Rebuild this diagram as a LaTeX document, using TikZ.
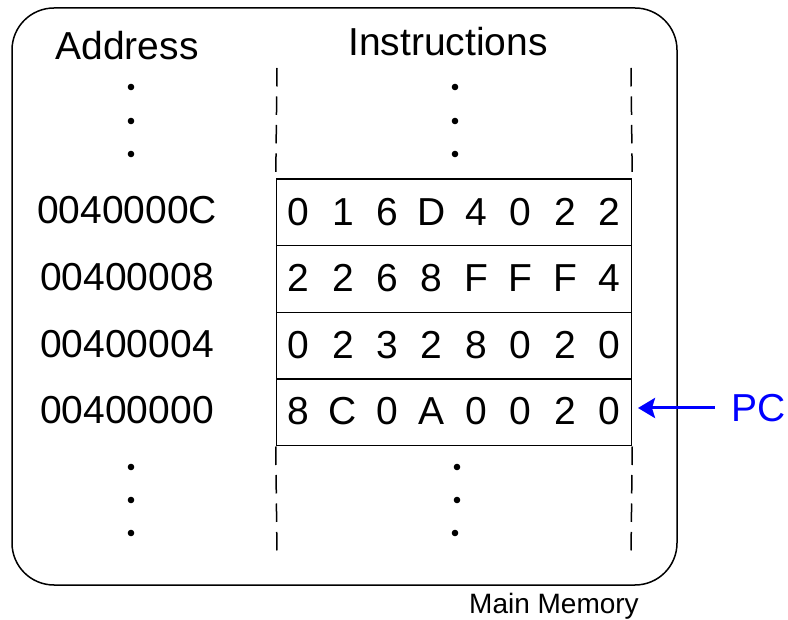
\documentclass[tikz,border=0pt]{standalone}
\usepackage{fontspec}
\setmainfont{Liberation Sans}
\usetikzlibrary{arrows.meta}

% eight hex digits of one word, on an even pitch
\newcommand{\hexcells}[8]{%
  \makebox[44.4pt]{#1}\makebox[44.4pt]{#2}\makebox[44.4pt]{#3}\makebox[44.4pt]{#4}%
  \makebox[44.4pt]{#5}\makebox[44.4pt]{#6}\makebox[44.4pt]{#7}\makebox[44.4pt]{#8}}

\begin{document}
\begin{tikzpicture}[x=1pt, y=-1pt,
  bigtext/.style={font=\fontsize{39}{47}\selectfont, inner sep=0pt},
  memrow/.style={draw, line width=1.3pt, minimum width=354pt, minimum height=66.7pt,
                 inner sep=0pt, bigtext},
  vdot/.style={circle, fill=black, inner sep=0pt, minimum size=6.6pt},
  bus/.style={line width=1.5pt, dash pattern=on 18.5pt off 10pt},
  pcarrow/.style={draw=blue, line width=3pt,
                  -{Stealth[length=17pt, width=20pt, inset=3pt]}}]

\useasboundingbox (0,0) rectangle (788,620);

% main memory outline
\node[draw, line width=1.5pt, rounded corners=42pt,
      minimum width=665pt, minimum height=577pt] (mem) at (344.5,296.5) {};
\node[font=\fontsize{28}{34}\selectfont, inner sep=0pt, anchor=base] (memlabel)
  at (554,613) {Main Memory};

% column headings
\node[bigtext, anchor=base] (hAddr) at (127,60) {Address};
\node[bigtext, anchor=base] (hInstr) at (448,56) {Instructions};

% memory words
\node[memrow] (row1) at (454,212.5) {\raisebox{2pt}{\hexcells 016D4022}};
\node[memrow] (row2) at (454,279.2) {\raisebox{2pt}{\hexcells 2268FFF4}};
\node[memrow] (row3) at (454,345.8) {\raisebox{2pt}{\hexcells 02328020}};
\node[memrow] (row4) at (454,412.5) {\raisebox{3pt}{\hexcells 8C0A0020}};

% addresses
\node[bigtext] (a1) at (127,210.5) {0040000C};
\node[bigtext] (a2) at (127,277.2) {00400008};
\node[bigtext] (a3) at (127,343.8) {00400004};
\node[bigtext] (a4) at (127,410.5) {00400000};

% dashed continuation of the memory array
\coordinate (topL) at (277,68);
\coordinate (topR) at (631,68);
\coordinate (botL) at (277,555);
\coordinate (botR) at (631,555);
\draw[bus] (topL) -- (row1.north west);
\draw[bus] (topR) -- (row1.north east);
\draw[bus] (row4.south west) -- (botL);
\draw[bus] (row4.south east) -- (botR);

% ellipses above and below
\node[vdot] (ad1) at (131,87) {};
\node[vdot] (ad2) at (131,121) {};
\node[vdot] (ad3) at (131,154) {};
\node[vdot] (ad4) at (131,467) {};
\node[vdot] (ad5) at (131,500) {};
\node[vdot] (ad6) at (131,533) {};
\node[vdot] (id1) at (455,87) {};
\node[vdot] (id2) at (455,121) {};
\node[vdot] (id3) at (455,154) {};
\node[vdot] (id4) at (457,467) {};
\node[vdot] (id5) at (457,500) {};
\node[vdot] (id6) at (455,533) {};

% program counter
\node[bigtext, text=blue, inner sep=3pt] (PC) at (759,408) {PC};
\coordinate (pctip) at (638,408);
\draw[pcarrow, shorten <=14pt] (PC.west) -- (pctip);

\end{tikzpicture}
\end{document}
